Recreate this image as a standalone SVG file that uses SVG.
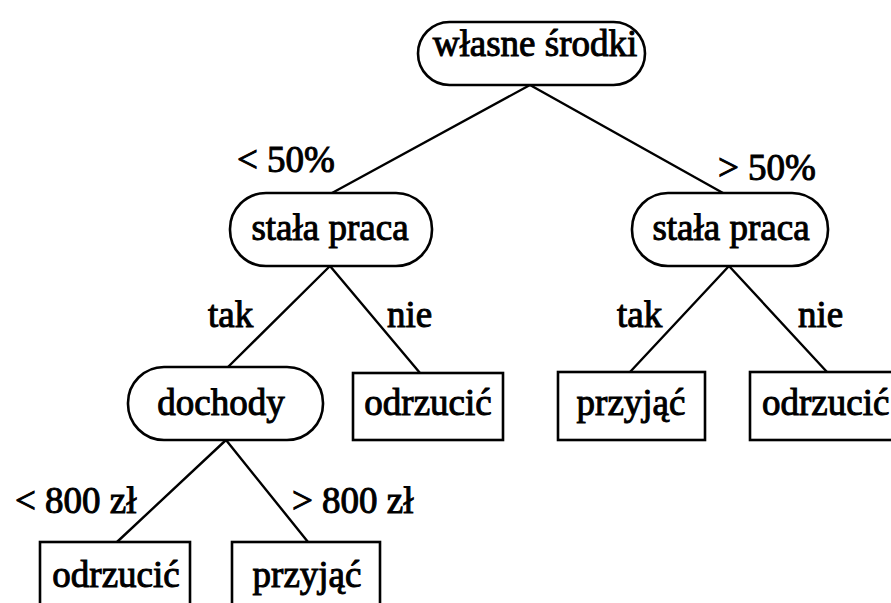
<svg xmlns="http://www.w3.org/2000/svg" width="891" height="603" viewBox="0 0 891 603">
  <style>
    .shape { fill: #fff; stroke: #000; stroke-width: 2.6; }
    .edge { stroke: #000; stroke-width: 2.4; fill: none; stroke-linecap: round; }
    .t { font-family: 'Liberation Serif', 'DejaVu Serif', 'Times New Roman', serif; font-size: 37px; fill: #000; stroke: #000; stroke-width: 1; }
    .c { text-anchor: middle; }
  </style>
  <rect width="891" height="603" fill="#fff"/>

  <!-- connectors -->
  <g id="edges">
    <line class="edge" x1="530" y1="85" x2="332" y2="193"/>
    <line class="edge" x1="530" y1="85" x2="723" y2="193"/>
    <line class="edge" x1="330" y1="266" x2="228" y2="367"/>
    <line class="edge" x1="330" y1="266" x2="420" y2="373"/>
    <line class="edge" x1="729" y1="266" x2="630" y2="372"/>
    <line class="edge" x1="729" y1="266" x2="827" y2="372"/>
    <line class="edge" x1="226" y1="440" x2="117" y2="542"/>
    <line class="edge" x1="226" y1="440" x2="308" y2="542"/>
  </g>

  <!-- edge labels -->
  <g id="labels">
    <text class="t" x="237" y="172">&lt; 50%</text>
    <text class="t" x="718" y="180">&gt; 50%</text>
    <text class="t" x="208" y="327">tak</text>
    <text class="t" x="387" y="327">nie</text>
    <text class="t" x="617" y="327">tak</text>
    <text class="t" x="798" y="327">nie</text>
    <text class="t" x="15" y="513">&lt; 800 zł</text>
    <text class="t" x="292" y="513">&gt; 800 zł</text>
  </g>

  <g id="root">
    <rect class="shape" x="418" y="22" width="227" height="63" rx="31.5"/>
    <text class="t c" x="535" y="56">własne środki</text>
  </g>

  <g id="praca-low">
    <rect class="shape" x="230" y="193" width="202" height="73" rx="36"/>
    <text class="t c" x="330" y="240">stała praca</text>
  </g>

  <g id="praca-high">
    <rect class="shape" x="632" y="193" width="196" height="73" rx="36"/>
    <text class="t c" x="731" y="240">stała praca</text>
  </g>

  <g id="dochody">
    <rect class="shape" x="128" y="367" width="195" height="73" rx="36"/>
    <text class="t c" x="221" y="415">dochody</text>
  </g>

  <g id="odrzucic-1">
    <rect class="shape" x="353" y="373" width="150" height="67"/>
    <text class="t c" x="428" y="415">odrzucić</text>
  </g>

  <g id="przyjac-1">
    <rect class="shape" x="558" y="372" width="147" height="68"/>
    <text class="t c" x="631" y="415">przyjąć</text>
  </g>

  <g id="odrzucic-2">
    <rect class="shape" x="750" y="372" width="160" height="68"/>
    <text class="t" x="762" y="415">odrzucić</text>
  </g>

  <g id="odrzucic-3">
    <rect class="shape" x="40" y="542" width="150" height="80"/>
    <text class="t c" x="116" y="587">odrzucić</text>
  </g>

  <g id="przyjac-2">
    <rect class="shape" x="232" y="542" width="148" height="80"/>
    <text class="t c" x="307" y="587">przyjąć</text>
  </g>
</svg>
